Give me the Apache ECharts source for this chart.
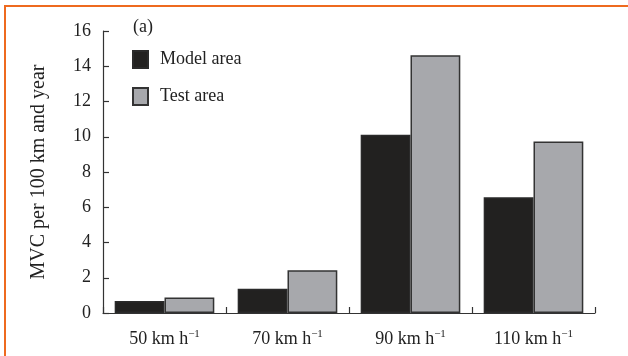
<!DOCTYPE html>
<html>
<head>
<meta charset="utf-8">
<script src="https://cdn.jsdelivr.net/npm/echarts@6/dist/echarts.min.js"></script>
<style>
html,body{margin:0;padding:0;background:#fff;}
#c{width:628px;height:356px;}
</style>
</head>
<body>
<div id="c"></div>
<script>
const categories = ['50', '70', '90', '110'];
const modelArea = [0.68, 1.38, 10.12, 6.57];
const testArea = [0.88, 2.43, 14.63, 9.73];
const yTicks = [0, 2, 4, 6, 8, 10, 12, 14, 16];

const FONT = '"Liberation Serif", "DejaVu Serif", serif';
const chart = echarts.init(document.getElementById('c'), null, {renderer: 'canvas'});
const opt = {
  animation: false,
  backgroundColor: '#ffffff',
  grid: {left: 103, right: 33, top: 31, bottom: 43, containLabel: false},
  legend: {
    orient: 'vertical',
    left: 127, top: 45,
    itemWidth: 15, itemHeight: 17, itemGap: 18,
    icon: 'rect',
    textStyle: {fontFamily: FONT, fontSize: 18, color: '#222', padding: [0, 0, 0, 7]},
    data: ['Model area', 'Test area']
  },
  graphic: [
    {type: 'rect', shape: {x: 5, y: 6, width: 700, height: 400}, style: {fill: 'none', stroke: '#ee6a1f', lineWidth: 2}, silent: true},
    {type: 'text', left: 133, top: 18, style: {text: '(a)', font: '18px ' + FONT, fill: '#222'}}
  ],
  xAxis: {
    type: 'category',
    data: categories,
    axisLine: {show: true, lineStyle: {color: '#333', width: 1.2}},
    axisTick: {show: true, inside: true, length: 6, alignWithLabel: false, lineStyle: {color: '#333', width: 1.2}},
    axisLabel: {
      interval: 0,
      margin: 16,
      formatter: v => '{a|' + v + ' km h}{s|−1}',
      rich: {
        a: {fontFamily: FONT, fontSize: 18, color: '#222'},
        s: {fontFamily: FONT, fontSize: 11, color: '#222', verticalAlign: 'top', padding: [0, 0, 9, 0]}
      }
    },
    splitLine: {show: false}
  },
  yAxis: {
    type: 'value',
    min: 0, max: 16, interval: 2,
    name: 'MVC per 100 km and year',
    nameLocation: 'middle',
    nameGap: 54,
    nameTextStyle: {fontFamily: FONT, fontSize: 20, color: '#222'},
    axisLine: {show: true, lineStyle: {color: '#333', width: 1.2}},
    axisTick: {show: true, inside: true, length: 6, lineStyle: {color: '#333', width: 1.2}},
    axisLabel: {margin: 12, fontFamily: FONT, fontSize: 18, color: '#222',
      formatter: v => yTicks.includes(v) ? String(v) : ''},
    splitLine: {show: false}
  },
  series: [
    {name: 'Model area', type: 'bar', data: modelArea, barGap: '0%', barCategoryGap: '19%',
     itemStyle: {color: '#222120', borderColor: '#2a2a2a', borderWidth: 1.5}},
    {name: 'Test area', type: 'bar', data: testArea, barGap: '0%', barCategoryGap: '19%',
     itemStyle: {color: '#a7a8ac', borderColor: '#333', borderWidth: 1.5}}
  ]
};
chart.setOption(opt);
</script>
</body>
</html>
